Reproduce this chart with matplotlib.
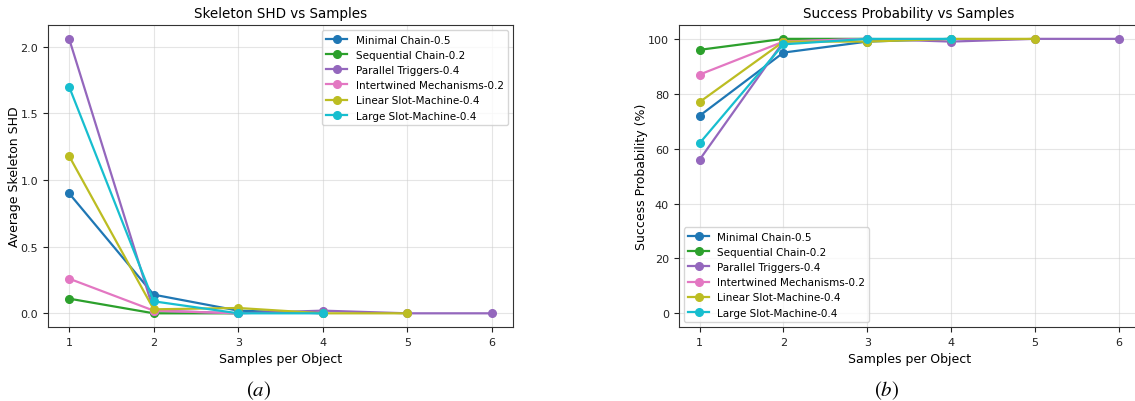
import matplotlib

matplotlib.use("Agg")
import matplotlib.pyplot as plt

# experiment names (legend order)
names = [
    "Minimal Chain-0.5",
    "Sequential Chain-0.2",
    "Parallel Triggers-0.4",
    "Intertwined Mechanisms-0.2",
    "Linear Slot-Machine-0.4",
    "Large Slot-Machine-0.4",
]
colors = ["#1f77b4", "#2ca02c", "#9467bd", "#e377c2", "#bcbd22", "#17becf"]

# samples per object evaluated for each experiment
samples = [
    [1, 2, 3, 4],
    [1, 2, 3],
    [1, 2, 3, 4, 5, 6],
    [1, 2, 3],
    [1, 2, 3, 4, 5],
    [1, 2, 3, 4],
]

# average skeleton SHD
shd = [
    [0.90, 0.14, 0.02, 0.00],
    [0.11, 0.00, 0.00],
    [2.06, 0.02, 0.00, 0.02, 0.00, 0.00],
    [0.26, 0.02, 0.00],
    [1.18, 0.03, 0.04, 0.00, 0.00],
    [1.70, 0.09, 0.00, 0.00],
]

# success probability (%)
success = [
    [72, 95, 99, 100],
    [96, 100, 100],
    [56, 99, 100, 99, 100, 100],
    [87, 99, 100],
    [77, 99, 99, 100, 100],
    [62, 98, 100, 100],
]


def style_axes(ax):
    ax.grid(True, color="#cccccc", alpha=0.5, linewidth=0.8)
    for spine in ax.spines.values():
        spine.set_color("#333333")
    ax.tick_params(labelsize=8, colors="#222222")
    ax.set_xticks([1, 2, 3, 4, 5, 6])


def main():
    plt.rcParams["mathtext.fontset"] = "stix"
    fig = plt.figure(figsize=(11.35, 4.02), dpi=100)

    ax1 = fig.add_axes([0.0423, 0.184, 0.4097, 0.751])
    ax2 = fig.add_axes([0.598, 0.184, 0.406, 0.751])

    for i, name in enumerate(names):
        ax1.plot(samples[i], shd[i], marker="o", markersize=5.5, linewidth=1.6,
                 color=colors[i], label=name)
        ax2.plot(samples[i], success[i], marker="o", markersize=5.5, linewidth=1.6,
                 color=colors[i], label=name)

    ax1.set_title("Skeleton SHD vs Samples", fontsize=9.75)
    ax1.set_xlabel("Samples per Object", fontsize=9)
    ax1.set_ylabel("Average Skeleton SHD", fontsize=9, labelpad=0)
    style_axes(ax1)
    ax1.legend(loc="upper right", fontsize=7.5)

    ax2.set_title("Success Probability vs Samples", fontsize=9.75)
    ax2.set_xlabel("Samples per Object", fontsize=9)
    ax2.set_ylabel("Success Probability (%)", fontsize=9, labelpad=0)
    ax2.set_ylim(-5, 105)
    style_axes(ax2)
    ax2.legend(loc="lower left", fontsize=7.5)

    fig.text(0.228, 0.027, r"$(a)$", fontsize=15, ha="center", va="center")
    fig.text(0.781, 0.027, r"$(b)$", fontsize=15, ha="center", va="center")

    fig.savefig("out.png", dpi=100)


if __name__ == "__main__":
    main()
